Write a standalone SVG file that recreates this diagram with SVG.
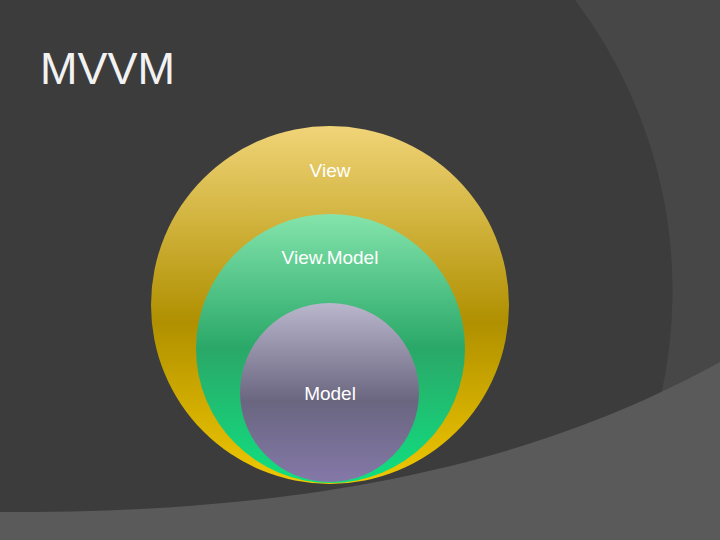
<svg xmlns="http://www.w3.org/2000/svg" width="720" height="540" viewBox="0 0 720 540">
<style>
.lbl{font-family:"Liberation Sans",Arial,sans-serif;font-size:19px;fill:#ffffff;text-anchor:middle}
</style>
<defs>
<linearGradient id="gv" x1="0" y1="0" x2="0" y2="1">
<stop offset="0" stop-color="#f0d478"/><stop offset="0.55" stop-color="#b09000"/><stop offset="1" stop-color="#f0c800"/>
</linearGradient>
<linearGradient id="gvm" x1="0" y1="0" x2="0" y2="1">
<stop offset="0" stop-color="#84e4ac"/><stop offset="0.5" stop-color="#2aa868"/><stop offset="1" stop-color="#10e080"/>
</linearGradient>
<linearGradient id="gm" x1="0" y1="0" x2="0" y2="1">
<stop offset="0" stop-color="#bab6cc"/><stop offset="0.55" stop-color="#6a6680"/><stop offset="1" stop-color="#8478a8"/>
</linearGradient>
</defs>
<rect width="720" height="540" fill="#3c3c3c"/>
<path d="M575,0 A482,482 0 0 1 660,400 L720,400 L720,0 Z" fill="#474747"/>
<path d="M0,512 C330,514 550,456 720,362 L720,540 L0,540 Z" fill="#5a5a5a"/>
<text x="40" y="84" font-family="'Liberation Sans',Arial,sans-serif" font-size="45" fill="#f2f2f2" textLength="135">MVVM</text>
<g id="view"><circle cx="330" cy="305" r="179" fill="url(#gv)"/><text class="lbl" x="330" y="177">View</text></g>
<g id="viewmodel"><circle cx="330.5" cy="348.5" r="134.5" fill="url(#gvm)"/><text class="lbl" x="330" y="264">View.Model</text></g>
<g id="model"><circle cx="329.5" cy="392.5" r="89.5" fill="url(#gm)"/><text class="lbl" x="330" y="400">Model</text></g>
<g id="connectors"/>
</svg>
